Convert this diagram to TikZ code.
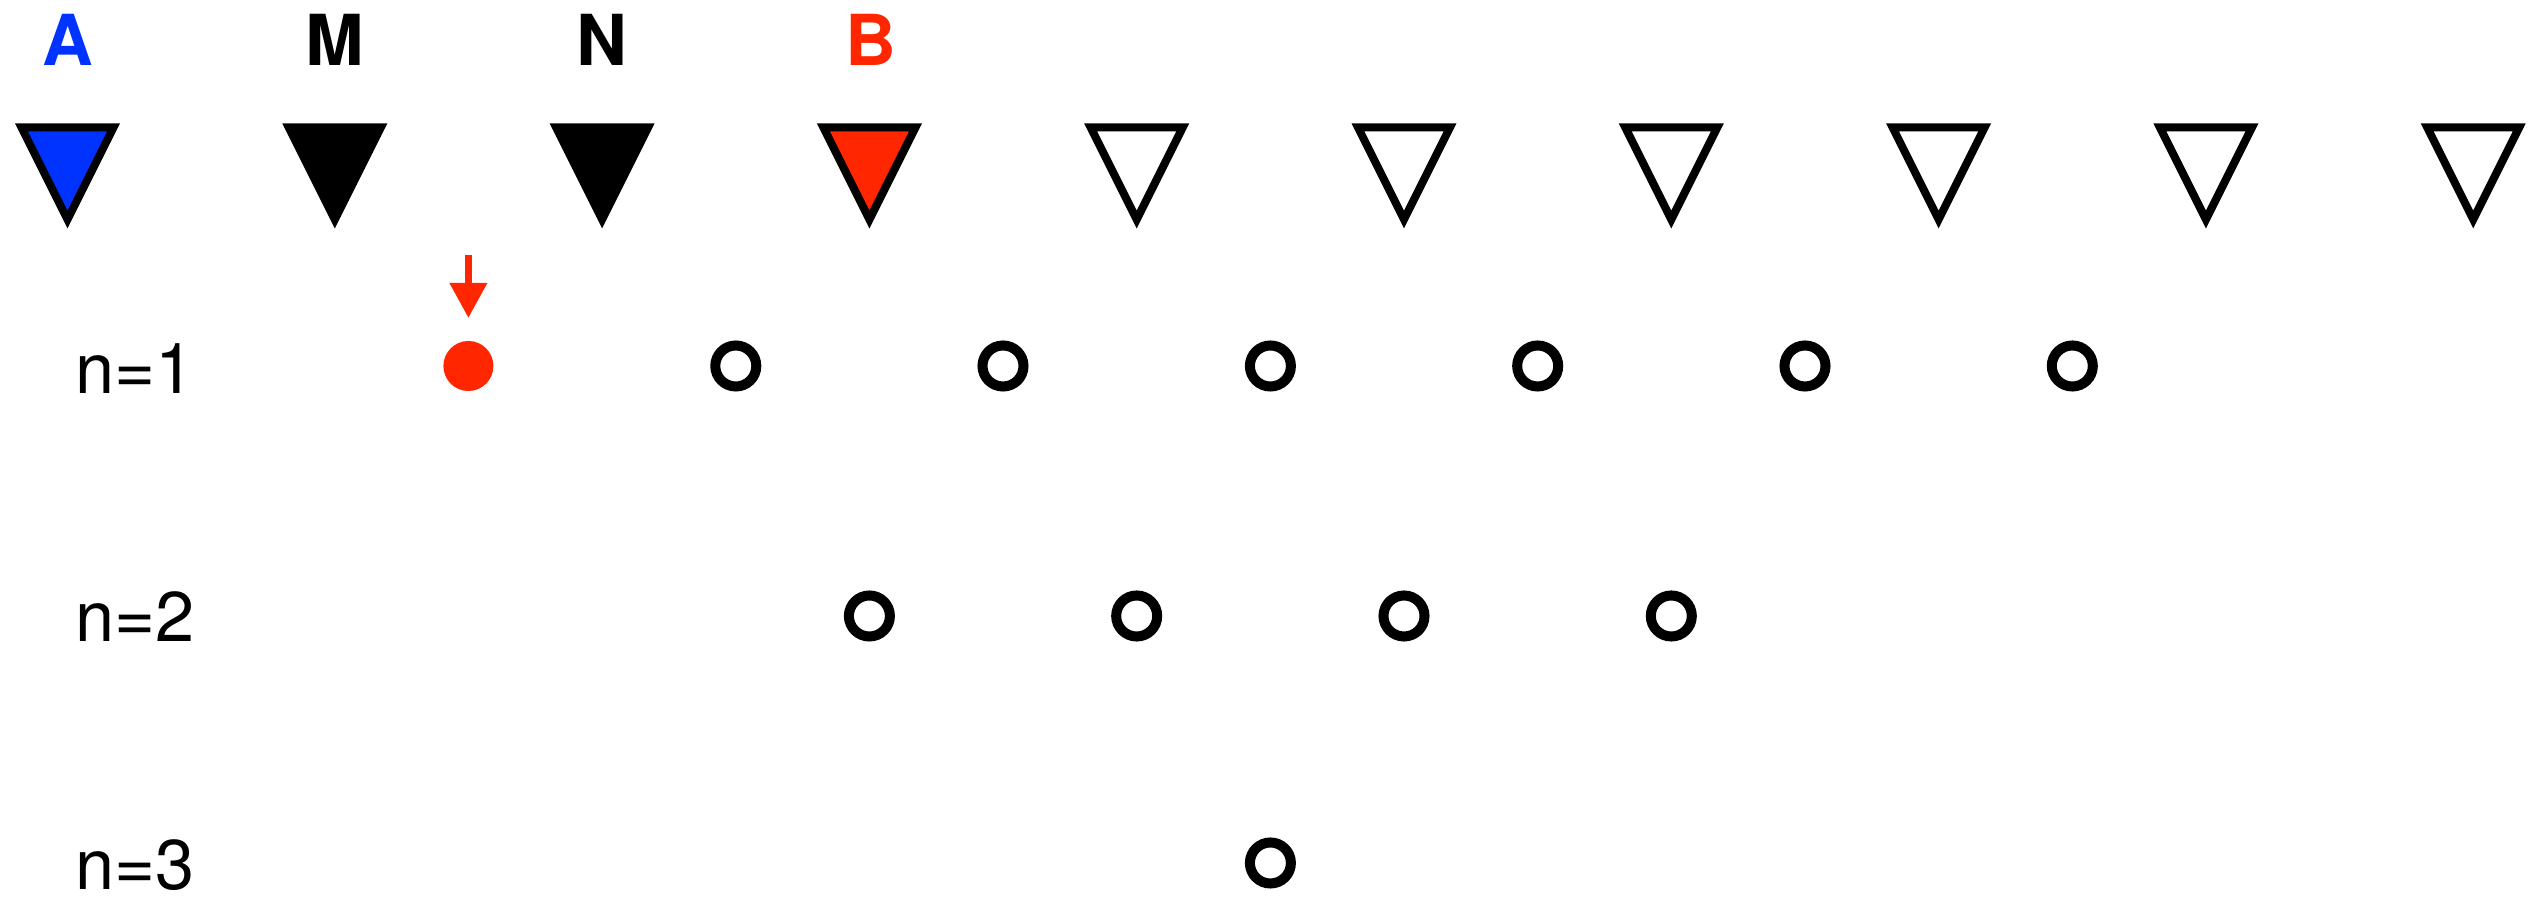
\documentclass[tikz,border=0pt]{standalone}
\usepackage{fontspec}
\setmainfont{TeX Gyre Heros}
\usetikzlibrary{arrows.meta,shapes.geometric}
\definecolor{Acol}{RGB}{0,51,255}
\definecolor{Bcol}{RGB}{255,38,0}
\tikzset{
  % station marker: downward triangle, placed by its tip
  station/.style={isosceles triangle, isosceles triangle stretches, shape border rotate=270,
                  minimum width=0.92cm, minimum height=0.92cm, inner sep=0pt, outer sep=0pt,
                  draw=black, line width=0.8mm, line join=miter, fill=#1, anchor=apex},
  station/.default={white},
  % station name
  stlabel/.style={font=\fontsize{20}{24}\selectfont\bfseries, anchor=base, text=#1},
  stlabel/.default={black},
  % ring between stations
  ring/.style={circle, draw=black, line width=1mm, minimum size=0.41cm, inner sep=0pt, outer sep=0pt},
  % source dot
  srcdot/.style={circle, fill=Bcol, minimum size=0.5cm, inner sep=0pt, outer sep=0pt},
  % order label
  nlabel/.style={font=\fontsize{20}{24}\selectfont, anchor=base west},
  % pointer arrow
  hitarrow/.style={-{Triangle[length=3.5mm,width=3.6mm]}, line width=0.7mm, Bcol},
}

\begin{document}
\begin{tikzpicture}[x=0.01cm, y=-0.01cm]
  \useasboundingbox (0,0) rectangle (2544,898);

  % stations
  \node[station=Acol] (tA) at (67.5,219.5) {};
  \node[station=black] (tM) at (334.8,219.5) {};
  \node[station=black] (tN) at (602.1,219.5) {};
  \node[station=Bcol] (tB) at (869.4,219.5) {};
  \node[station] (t5) at (1136.7,219.5) {};
  \node[station] (t6) at (1404,219.5) {};
  \node[station] (t7) at (1671.3,219.5) {};
  \node[station] (t8) at (1938.6,219.5) {};
  \node[station] (t9) at (2205.9,219.5) {};
  \node[station] (t10) at (2473.2,219.5) {};

  \node[stlabel=Acol] (lA) at (67.5,66) {A};
  \node[stlabel] (lM) at (334.5,66) {M};
  \node[stlabel] (lN) at (602.1,66) {N};
  \node[stlabel=Bcol] (lB) at (871,66) {B};

  % n=1
  \node[nlabel] (n1) at (63,394) {n=1};
  \node[srcdot] (d1) at (468.4,366) {};
  \node[ring] (r12) at (735.8,366) {};
  \node[ring] (r13) at (1003,366) {};
  \node[ring] (r14) at (1270.4,366) {};
  \node[ring] (r15) at (1537.7,366) {};
  \node[ring] (r16) at (1805,366) {};
  \node[ring] (r17) at (2072.3,366) {};

  \coordinate (p0) at (468.4,255);
  \draw[hitarrow, shorten >=0.23cm] (p0) -- (d1);

  % n=2
  \node[nlabel] (n2) at (63,642) {n=2};
  \node[ring] (r21) at (869.4,616) {};
  \node[ring] (r22) at (1136.7,616) {};
  \node[ring] (r23) at (1404,616) {};
  \node[ring] (r24) at (1671.3,616) {};

  % n=3
  \node[nlabel] (n3) at (63,890) {n=3};
  \node[ring] (r31) at (1270.4,863) {};
\end{tikzpicture}
\end{document}
